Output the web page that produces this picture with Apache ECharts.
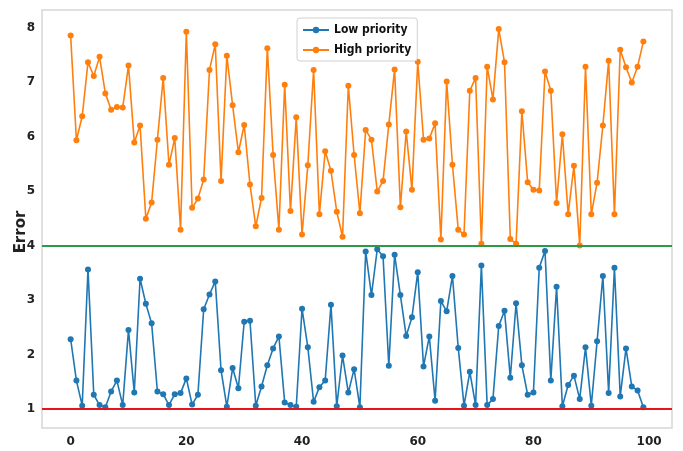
<!DOCTYPE html>
<html>
<head>
<meta charset="utf-8">
<script src="https://cdn.jsdelivr.net/npm/echarts@6/dist/echarts.min.js"></script>
<style>
  html, body { margin: 0; padding: 0; background: #fff; }
  #main { width: 683px; height: 451px; }
</style>
</head>
<body>
<div id="main"></div>
<script>
var lowPriority = [2.28, 1.52, 1.06, 3.56, 1.26, 1.07, 1.03, 1.32, 1.52, 1.07,
  2.45, 1.30, 3.39, 2.93, 2.57, 1.32, 1.27, 1.07, 1.27, 1.29,
  1.56, 1.08, 1.26, 2.83, 3.10, 3.34, 1.71, 1.04, 1.75, 1.38,
  2.60, 2.62, 1.06, 1.41, 1.80, 2.11, 2.33, 1.12, 1.07, 1.04,
  2.84, 2.13, 1.13, 1.40, 1.52, 2.91, 1.05, 1.98, 1.30, 1.73,
  1.03, 3.89, 3.09, 3.93, 3.80, 1.79, 3.83, 3.09, 2.34, 2.68,
  3.51, 1.78, 2.33, 1.15, 2.98, 2.79, 3.44, 2.12, 1.06, 1.68,
  1.07, 3.63, 1.07, 1.18, 2.52, 2.80, 1.57, 2.94, 1.80, 1.26,
  1.30, 3.59, 3.90, 1.52, 3.24, 1.05, 1.44, 1.61, 1.18, 2.13,
  1.06, 2.24, 3.44, 1.29, 3.59, 1.23, 2.11, 1.41, 1.34, 1.03];

var highPriority = [7.85, 5.93, 6.37, 7.36, 7.11, 7.46, 6.79, 6.49, 6.54, 6.53,
  7.30, 5.89, 6.20, 4.49, 4.79, 5.94, 7.07, 5.48, 5.97, 4.29,
  7.92, 4.69, 4.86, 5.21, 7.22, 7.69, 5.18, 7.48, 6.57, 5.71,
  6.21, 5.12, 4.35, 4.87, 7.62, 5.66, 4.29, 6.95, 4.63, 6.35,
  4.20, 5.47, 7.22, 4.57, 5.73, 5.37, 4.62, 4.16, 6.93, 5.66,
  4.59, 6.12, 5.94, 4.99, 5.18, 6.22, 7.23, 4.70, 6.09, 5.02,
  7.37, 5.94, 5.96, 6.24, 4.11, 7.01, 5.48, 4.29, 4.20, 6.84,
  7.07, 4.03, 7.28, 6.68, 7.97, 7.36, 4.12, 4.03, 6.46, 5.16,
  5.02, 5.01, 7.19, 6.84, 4.78, 6.04, 4.57, 5.46, 4.00, 7.28,
  4.57, 5.15, 6.20, 7.39, 4.57, 7.59, 7.27, 6.99, 7.28, 7.74];

var xTicks = [0, 20, 40, 60, 80, 100];
var yTicks = [1, 2, 3, 4, 5, 6, 7, 8];
var lowThreshold = 1;
var highThreshold = 4;

var myChart = echarts.init(document.getElementById('main'));

function toPairs(arr) {
  return arr.map(function (v, i) { return [i, v]; });
}

var tickFont = {
  color: '#222',
  fontSize: 12,
  fontWeight: 'bold',
  fontFamily: 'DejaVu Sans'
};

var option = {
  animation: false,
  backgroundColor: '#fff',
  grid: {
    left: 42,
    right: 11,
    top: 10,
    bottom: 23,
    show: true,
    borderColor: '#d6d6d6',
    borderWidth: 1.5
  },
  legend: {
    left: 297,
    top: 18,
    orient: 'vertical',
    itemWidth: 26,
    itemHeight: 8,
    itemGap: 8,
    padding: [6, 6, 5, 5],
    backgroundColor: '#fff',
    borderColor: '#d0d0d0',
    borderWidth: 1,
    borderRadius: 3,
    textStyle: {
      color: '#111',
      fontSize: 12,
      fontWeight: 'bold',
      fontFamily: '"Liberation Sans Narrow", "DejaVu Sans Condensed", sans-serif'
    },
    data: ['Low priority', 'High priority']
  },
  xAxis: {
    type: 'value',
    min: -4.95,
    max: 103.95,
    splitLine: { show: false },
    axisLine: { show: false },
    axisTick: { show: false },
    axisLabel: Object.assign({ customValues: xTicks, margin: 8 }, tickFont)
  },
  yAxis: {
    type: 'value',
    min: 0.65,
    max: 8.32,
    splitLine: { show: false },
    axisLine: { show: false },
    axisTick: { show: false },
    axisLabel: Object.assign({ customValues: yTicks, margin: 7 }, tickFont)
  },
  graphic: [{
    type: 'text',
    x: 21,
    y: 232,
    rotation: Math.PI / 2,
    style: {
      text: 'Error',
      fill: '#222',
      font: 'bold 15px "DejaVu Sans"',
      textAlign: 'center',
      textVerticalAlign: 'middle'
    }
  }],
  series: [{
    name: 'Low priority',
    type: 'line',
    data: toPairs(lowPriority),
    symbol: 'circle',
    symbolSize: 6,
    lineStyle: { width: 1.6, color: '#1f77b4' },
    itemStyle: { color: '#1f77b4' },
    z: 3,
    markLine: {
      silent: true,
      symbol: 'none',
      label: { show: false },
      lineStyle: { color: '#e8141c', width: 2, type: 'solid' },
      data: [{ yAxis: lowThreshold }],
      z: 4
    }
  }, {
    name: 'High priority',
    type: 'line',
    data: toPairs(highPriority),
    symbol: 'circle',
    symbolSize: 6,
    lineStyle: { width: 1.6, color: '#ff7f0e' },
    itemStyle: { color: '#ff7f0e' },
    z: 3,
    markLine: {
      silent: true,
      symbol: 'none',
      label: { show: false },
      lineStyle: { color: '#2e9a48', width: 2, type: 'solid' },
      data: [{ yAxis: highThreshold }],
      z: 4
    }
  }]
};

myChart.setOption(option);
</script>
</body>
</html>
